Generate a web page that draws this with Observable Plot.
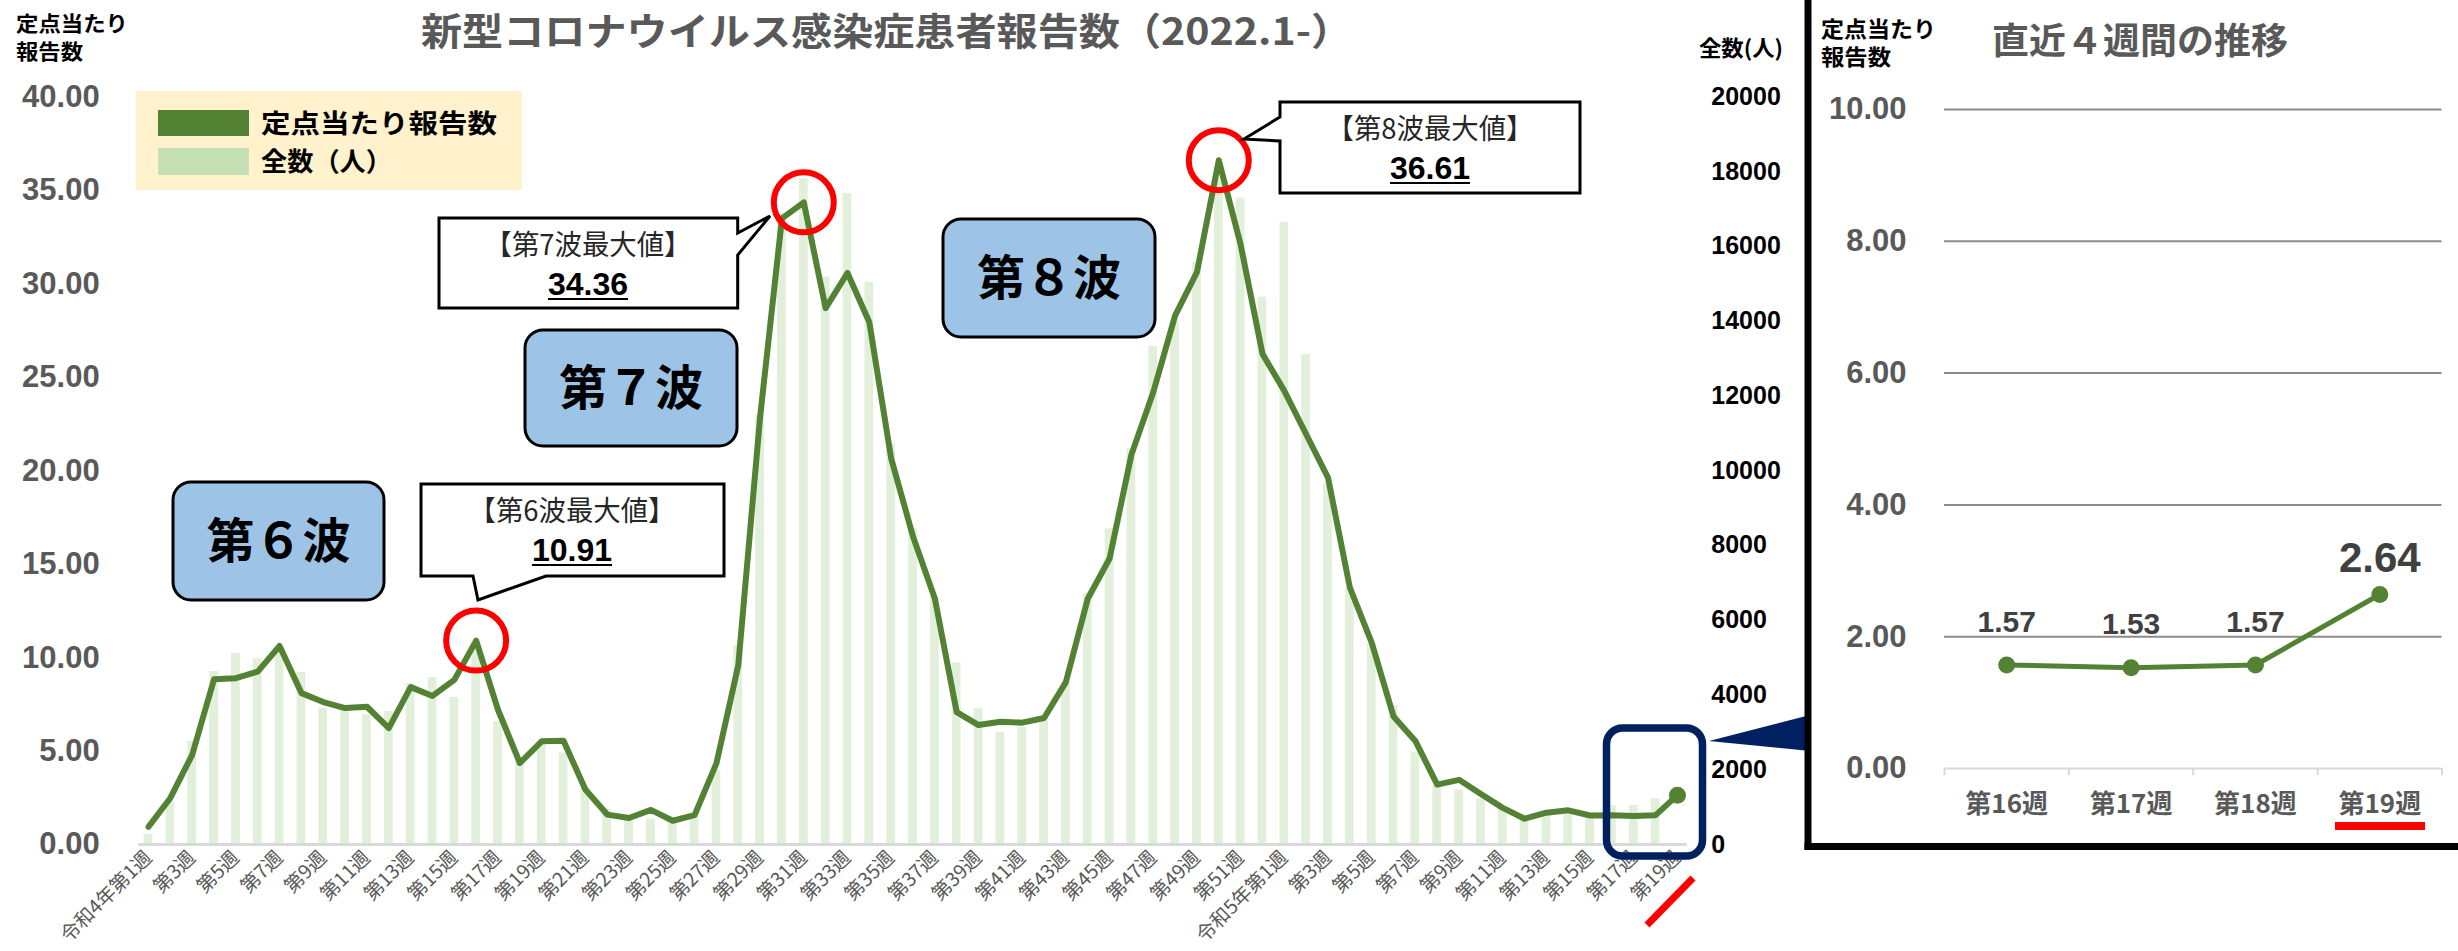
<!DOCTYPE html>
<html><head><meta charset="utf-8">
<script src="https://cdn.jsdelivr.net/npm/d3@7"></script>
<script src="https://cdn.jsdelivr.net/npm/@observablehq/plot@0.6"></script>
<style>
html,body{margin:0;padding:0;background:#fff;}
#wrap{position:relative;width:2458px;height:951px;overflow:hidden;background:#fff;}
#main{position:absolute;left:0;top:0;}
#side{position:absolute;left:1812px;top:0;}
#overlay{position:absolute;left:0;top:0;}
</style></head><body>
<div id="wrap"><div id="main"></div><div id="side"></div><svg id="overlay" width="2458" height="951"></svg></div>
<script>
// ---- categories (weeks) ----
const weeks2022 = ["令和4年第1週","第2週","第3週","第4週","第5週","第6週","第7週","第8週","第9週","第10週",
 "第11週","第12週","第13週","第14週","第15週","第16週","第17週","第18週","第19週","第20週",
 "第21週","第22週","第23週","第24週","第25週","第26週","第27週","第28週","第29週","第30週",
 "第31週","第32週","第33週","第34週","第35週","第36週","第37週","第38週","第39週","第40週",
 "第41週","第42週","第43週","第44週","第45週","第46週","第47週","第48週","第49週","第50週",
 "第51週","第52週"];
const weeks2023 = ["令和5年第1週","第2週","第3週","第4週","第5週","第6週","第7週","第8週","第9週","第10週",
 "第11週","第12週","第13週","第14週","第15週","第16週","第17週","第18週","第19週"];

// ---- series: 定点当たり報告数 ----
const rate2022 = [0.95,2.49,4.80,8.84,8.90,9.25,10.62,8.10,7.62,7.30,
 7.37,6.23,8.42,7.95,8.81,10.91,7.21,4.36,5.52,5.55,
 2.94,1.60,1.42,1.85,1.27,1.57,4.34,9.58,22.87,33.50,
 34.36,28.70,30.58,27.94,20.66,16.48,13.16,7.08,6.39,6.57,
 6.52,6.77,8.69,13.15,15.30,20.86,24.20,28.30,30.62,36.61,
 32.10,26.25];
const rate2023 = [24.27,21.95,19.63,13.75,10.80,6.85,5.54,3.20,3.46,2.70,
 1.96,1.38,1.70,1.83,1.55,1.57,1.53,1.57,2.64];

// ---- series: 全数（人） ----
const total2022 = [267,1150,2758,4626,5116,4964,5200,4600,3650,3600,
 3470,3560,4300,4466,3932,5300,3290,2300,2670,2447,
 1512,935,756,680,578,750,1980,5327,11480,16870,
 17810,15180,17420,15040,10720,8450,6640,4854,3641,3002,
 3130,3385,4343,6720,8446,10586,13323,13973,15578,17800,
 17290,14641];
const total2023 = [16648,13108,9649,6884,5369,3718,2469,1578,1463,1222,
 955,730,820,955,730,1043,1043,1222,null];

// ---- axis ticks ----
const leftTicks = [0,5,10,15,20,25,30,35,40];
const rightTicks = [0,2000,4000,6000,8000,10000,12000,14000,16000,18000,20000];
const peakValues = [10.91, 34.36, 36.61];
const peakTitles = ["【第6波最大値】","【第7波最大値】","【第8波最大値】"];
const waveNames = ["第６波","第７波","第８波"];

// ---- recent 4 weeks panel ----
const recentLabels = ["第16週","第17週","第18週","第19週"];
const recentValues = [1.57,1.53,1.57,2.64];
const recentTicks = [0,2,4,6,8,10];

const JP = '"Noto Sans CJK JP", sans-serif';
const NUM = '"Liberation Sans", Arial, sans-serif';
const RATIO = 20000 / 40;

const weeks = weeks2022.concat(weeks2023);
const rates = rate2022.concat(rate2023);
const totals = total2022.concat(total2023);
const data = weeks.map((w,i)=>({i, label:w, rate:rates[i], total:totals[i]}));
const tickIdx = data.filter(d=>d.i%2===0).map(d=>d.i);

const main = Plot.plot({
  width: 1790, height: 951,
  marginLeft: 138.2, marginRight: 103.2, marginTop: 96.4, marginBottom: 107,
  x: {type:"linear", domain:[-0.45, 70.45]},
  y: {domain:[0,40]},
  style: {fontFamily: JP, background:"transparent", overflow:"visible"},
  marks: [
    Plot.rectY(data.filter(d=>d.total!=null), {x1:d=>d.i-0.2, x2:d=>d.i+0.2, y1:0, y2:d=>d.total/RATIO, fill:"#E2EFDA"}),
    Plot.ruleY([0], {stroke:"#D9D9D9", strokeWidth:3}),
    Plot.lineY(data, {x:"i", y:"rate", stroke:"#548235", strokeWidth:6}),
    Plot.dot(data.slice(-1), {x:"i", y:"rate", r:8.5, fill:"#548235"}),
    Plot.dot(data.filter(d=>peakValues.includes(d.rate)), {x:"i", y:"rate", r:30, stroke:"#FF0000", strokeWidth:6, fill:"none"}),
    Plot.axisY({anchor:"left", ticks:leftTicks, tickFormat:d3.format(".2f"), tickSize:0, tickPadding:39, fontSize:31, fontWeight:"bold", fontFamily:NUM, color:"#595959", label:null}),
    Plot.axisY({anchor:"right", ticks:rightTicks.map(t=>t/RATIO), tickFormat:d=>String(Math.round(d*RATIO)), tickSize:0, tickPadding:24, fontSize:25, fontWeight:"bold", fontFamily:NUM, color:"#000000", label:null}),
    Plot.axisX({ticks:tickIdx, tickFormat:i=>weeks[i], tickRotate:-45, tickSize:0, tickPadding:10, fontSize:19.5, fontFamily:JP, color:"#595959", label:null})
  ]
});
document.getElementById("main").appendChild(main);

const recent = recentLabels.map((l,i)=>({i, label:l, v:recentValues[i]}));
const side = Plot.plot({
  width: 646, height: 951,
  marginLeft: 132, marginRight: 16.5, marginTop: 109, marginBottom: 183,
  x: {type:"linear", domain:[0,4]},
  y: {domain:[0,10]},
  style: {fontFamily: JP, background:"transparent", overflow:"visible"},
  marks: [
    Plot.ruleY(recentTicks.filter(t=>t>0), {stroke:"#8C8C8C", strokeWidth:2}),
    Plot.ruleY([0], {stroke:"#D9D9D9", strokeWidth:2}),
    Plot.ruleX([0,1,2,3,4], {y1:0, y2:-0.11, stroke:"#D9D9D9", strokeWidth:2}),
    Plot.lineY(recent, {x:d=>d.i+0.5, y:"v", stroke:"#548235", strokeWidth:5}),
    Plot.dot(recent, {x:d=>d.i+0.5, y:"v", r:8.5, fill:"#548235"}),
    Plot.text(recent.slice(0,3), {x:d=>d.i+0.5, y:"v", text:d=>d.v.toFixed(2), dy:-43, fontSize:30, fontWeight:"bold", fontFamily:NUM, fill:"#404040"}),
    Plot.text(recent.slice(3), {x:d=>d.i+0.5, y:"v", text:d=>d.v.toFixed(2), dy:-36, fontSize:42, fontWeight:"bold", fontFamily:NUM, fill:"#404040"}),
    Plot.axisY({ticks:recentTicks, tickFormat:d3.format(".2f"), tickSize:0, tickPadding:38, fontSize:31, fontWeight:"bold", fontFamily:NUM, color:"#595959", label:null}),
    Plot.axisX({ticks:[0.5,1.5,2.5,3.5], tickFormat:x=>recentLabels[Math.round(x-0.5)], tickSize:0, tickPadding:26, fontSize:26, fontWeight:"bold", fontFamily:JP, color:"#595959", label:null})
  ]
});
document.getElementById("side").appendChild(side);

// ---- overlay decorations ----
const ov = d3.select("#overlay");
function txt(x, y, s, o={}) {
  const t = ov.append("text").attr("x", x).attr("y", y).text(s)
    .attr("font-family", o.family || JP).attr("font-size", o.size || 20)
    .attr("font-weight", o.weight || "normal").attr("fill", o.fill || "#000")
    .attr("text-anchor", o.anchor || "start");
  if (o.len) t.attr("textLength", o.len).attr("lengthAdjust", "spacingAndGlyphs");
  return t;
}
// axis titles & chart title
txt(16, 31, "定点当たり", {size:21, weight:"bold", len:112});
txt(16, 59, "報告数", {size:21, weight:"bold", len:67});
txt(421, 45, "新型コロナウイルス感染症患者報告数（2022.1-）", {size:38, weight:"bold", fill:"#595959", len:931});
txt(1699, 56, "全数(人)", {size:22, weight:"bold", len:84});

// legend
ov.append("rect").attr("x",136).attr("y",91).attr("width",386).attr("height",99).attr("fill","#FFF2CC");
ov.append("rect").attr("x",158).attr("y",110).attr("width",91).attr("height",26).attr("fill","#548235");
ov.append("rect").attr("x",158).attr("y",148).attr("width",91).attr("height",27).attr("fill","#C5E0B4");
txt(261, 133, "定点当たり報告数", {size:26, weight:"bold", len:236});
txt(261, 171, "全数（人）", {size:26, weight:"bold", len:131});

// wave boxes
const waveBoxes = [[173,482,211,118],[525,330,212,116],[943,219,212,118]];
waveBoxes.forEach((b,k)=>{
  ov.append("rect").attr("x",b[0]).attr("y",b[1]).attr("width",b[2]).attr("height",b[3])
    .attr("rx",18).attr("fill","#9DC3E6").attr("stroke","#000").attr("stroke-width",3);
  txt(b[0]+b[2]/2, b[1]+b[3]/2+17, waveNames[k], {size:48, weight:"bold", anchor:"middle"});
});

// callouts
const callouts = [
  {path:"M421,484 H724 V576 H546 L478,600 L473,576 H421 Z", cx:572, top:484},
  {path:"M439,218 H737.7 V233 L770,216 L737.7,255 V308 H439 Z", cx:588, top:218},
  {path:"M1280,102 H1580 V193 H1280 V141 L1244,139 L1280,117 Z", cx:1430, top:102}
];
callouts.forEach((c,k)=>{
  ov.append("path").attr("d",c.path).attr("fill","#fff").attr("stroke","#000").attr("stroke-width",3);
  txt(c.cx, c.top+37, peakTitles[k], {size:28, fill:"#262626", anchor:"middle", len:207});
  const t = txt(c.cx, c.top+77, peakValues[k].toFixed(2), {size:32, weight:"bold", family:NUM, anchor:"middle"});
  const w = t.node().getComputedTextLength();
  ov.append("line").attr("x1",c.cx-w/2).attr("x2",c.cx+w/2).attr("y1",c.top+81).attr("y2",c.top+81)
    .attr("stroke","#000").attr("stroke-width",2);
});

// navy highlight box + arrow
ov.append("rect").attr("x",1606.5).attr("y",728).attr("width",96).attr("height",128).attr("rx",16)
  .attr("fill","none").attr("stroke","#002060").attr("stroke-width",7.5);
ov.append("polygon").attr("points","1709,741 1810,715 1810,751").attr("fill","#002060");
// red slash under 第19週
ov.append("line").attr("x1",1647).attr("y1",925).attr("x2",1693).attr("y2",878)
  .attr("stroke","#FF0000").attr("stroke-width",7);

// right panel frame
ov.append("line").attr("x1",1808).attr("y1",0).attr("x2",1808).attr("y2",850).attr("stroke","#000").attr("stroke-width",7);
ov.append("line").attr("x1",1804.5).attr("y1",846.5).attr("x2",2458).attr("y2",846.5).attr("stroke","#000").attr("stroke-width",7);
txt(1821, 37, "定点当たり", {size:22, weight:"bold", len:115});
txt(1821, 65, "報告数", {size:22, weight:"bold", len:70});
txt(1992, 54, "直近４週間の推移", {size:36, weight:"bold", fill:"#595959", len:296});
ov.append("rect").attr("x",2335).attr("y",822).attr("width",90).attr("height",8).attr("fill","#FF0000");
</script></body></html>
